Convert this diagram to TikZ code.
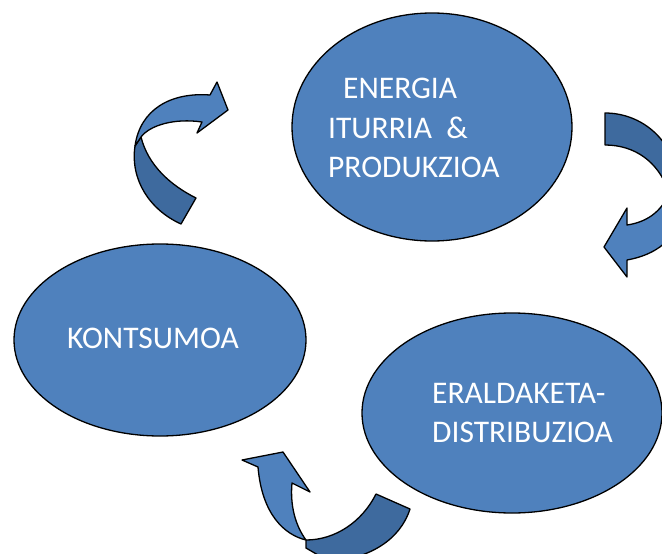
\documentclass[tikz,border=0pt]{standalone}
\usepackage{fontspec}
\setmainfont{Carlito}
\usetikzlibrary{shapes.geometric}
\begin{document}
\begin{tikzpicture}[x=1pt,y=-1pt,
  ell/.style={draw=black,line width=1.3pt,fill=blobfill,ellipse,inner sep=0pt},
  front/.style={draw=black,line width=1.3pt,fill=blobfill,line join=round},
  back/.style={draw=black,line width=1.3pt,fill=backfill,line join=round},
  lbl/.style={text=white,font=\fontsize{31.5}{38}\selectfont,anchor=base west,inner sep=0pt}]
\definecolor{blobfill}{HTML}{4F81BD}
\definecolor{backfill}{HTML}{3E6A9E}
\useasboundingbox (0,0) rectangle (662,554);
\clip (0,0) rectangle (662,554);
% ellipses
\node[ell,minimum width=280pt,minimum height=228pt] (src) at (432,127) {};
\node[ell,minimum width=292pt,minimum height=192pt] (cons) at (160,340) {};
\node[ell,minimum width=300pt,minimum height=200pt] (dist) at (512,413) {};
% texts
\node[lbl] (t1) at (343,98) {ENERGIA};
\node[lbl] (t2) at (328,138) {ITURRIA\ \ \&};
\node[lbl] (t3) at (328,177) {PRODUKZIOA};
\node[lbl] (t4) at (67,348) {KONTSUMOA};
\node[lbl] (t5) at (432,403) {ERALDAKETA-};
\node[lbl] (t6) at (432,442) {DISTRIBUZIOA};
% top-left curved arrow
\draw[back] (135,146) .. controls (130,180) and (150,210) .. (181,224) -- (196,198)
  .. controls (170,185) and (148,165) .. (141,137) -- cycle;
\draw[front] (135,146) .. controls (140,110) and (170,92) .. (210,95) -- (217,82) -- (228,110)
  -- (197,133) -- (202,122) .. controls (175,118) and (150,125) .. (141,137) -- cycle;
% right curved arrow
\draw[back] (605,113) .. controls (638,113) and (668,135) .. (676,170) -- (668,190)
  .. controls (658,162) and (635,145) .. (605,145) -- cycle;
\draw[front] (672,185) .. controls (665,210) and (648,222) .. (627,225) -- (627,208) -- (604,247)
  -- (627,277) -- (627,260) .. controls (655,255) and (678,240) .. (686,205) -- cycle;
% bottom curved arrow
\draw[back] (306,540) .. controls (335,540) and (362,522) .. (376,494) -- (410,509)
  .. controls (400,540) and (370,558) .. (330,562) -- (306,548) -- cycle;
\draw[front] (258,467) -- (242,460) -- (283,452) -- (310,492) -- (292,483)
  .. controls (290,505) and (295,525) .. (306,540)
  .. controls (285,535) and (262,515) .. (258,467) -- cycle;
\end{tikzpicture}
\end{document}
